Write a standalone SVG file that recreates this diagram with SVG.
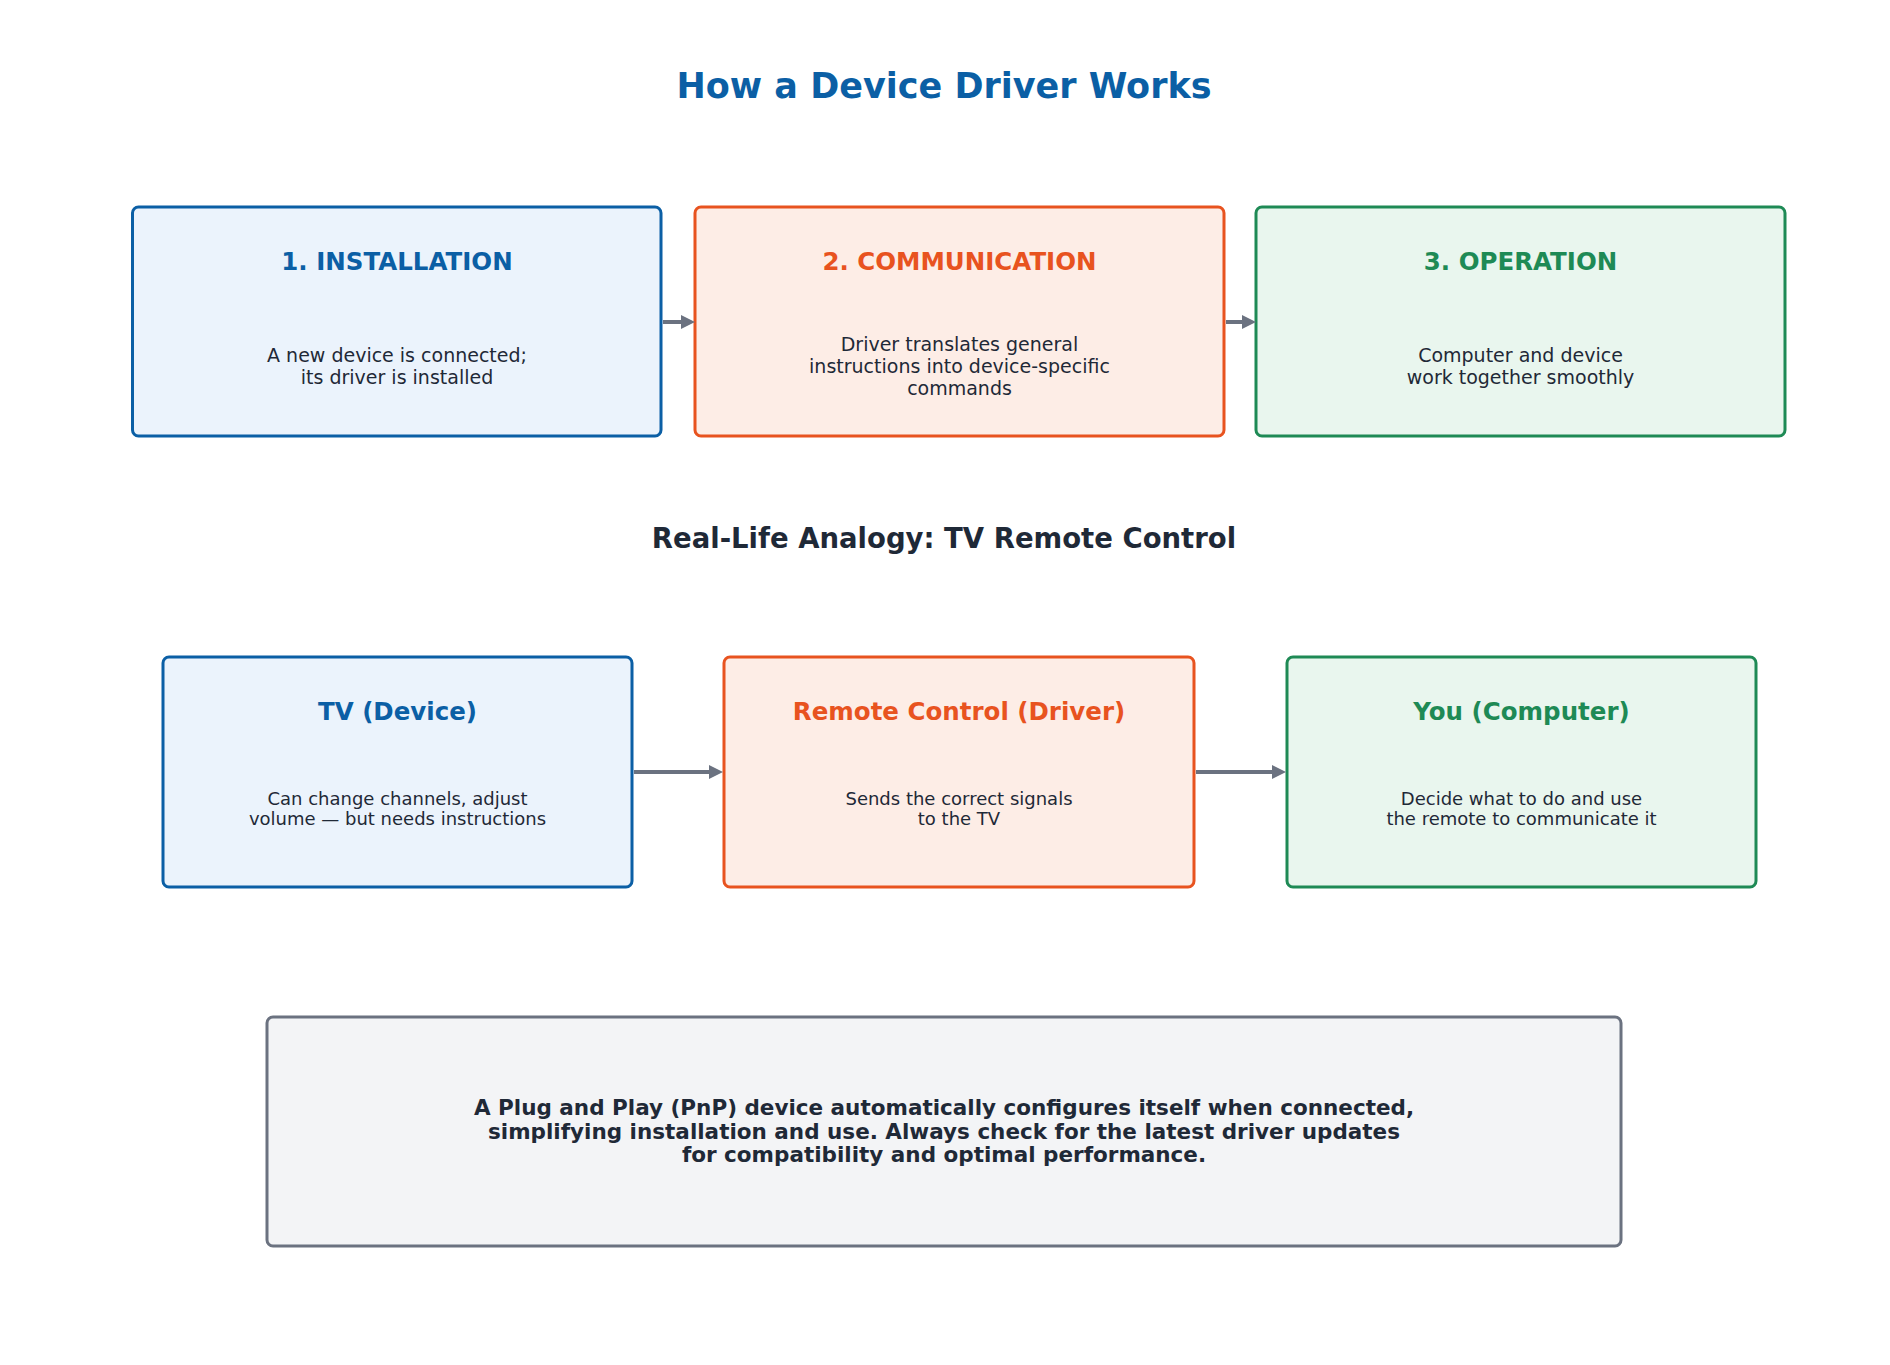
<svg xmlns="http://www.w3.org/2000/svg" width="1890" height="1365" viewBox="0 0 1890 1365">
<style>
text{font-family:"DejaVu Sans",sans-serif;text-anchor:middle}
.t{font-size:24.5px;font-weight:bold}
.b{font-size:19px;fill:#1f2937}
.s{font-size:18px;fill:#1f2937}
.blue rect{fill:#ebf3fc;stroke:#0b5fa5}
.orange rect{fill:#fdede6;stroke:#e8531f}
.green rect{fill:#e9f6ee;stroke:#1e8a55}
rect{stroke-width:3}
.blue .t{fill:#0b5fa5}.orange .t{fill:#e8531f}.green .t{fill:#1e8a55}
.c line{stroke:#6b7280;stroke-width:4;marker-end:url(#a)}
</style>
<defs><marker id="a" markerWidth="3.5" markerHeight="3.5" refX="2.5" refY="1.75" orient="auto" markerUnits="strokeWidth"><path d="M0,0L3.5,1.75L0,3.5z" fill="#6b7280"/></marker></defs>
<rect width="1890" height="1365" fill="#fff" stroke="none"/>
<text x="944" y="98" style="font-size:35px;font-weight:bold;fill:#0b5fa5">How a Device Driver Works</text>
<g id="n1" class="blue"><rect x="132.5" y="207" width="528.5" height="229" rx="6"/><text class="t" x="397" y="270">1. INSTALLATION</text><text class="b" x="397" y="362">A new device is connected;</text><text class="b" x="397" y="384">its driver is installed</text></g>
<g id="n2" class="orange"><rect x="695" y="207" width="529" height="229" rx="6"/><text class="t" x="959.5" y="270">2. COMMUNICATION</text><text class="b" x="959.5" y="351">Driver translates general</text><text class="b" x="959.5" y="373">instructions into device-specific</text><text class="b" x="959.5" y="395">commands</text></g>
<g id="n3" class="green"><rect x="1256" y="207" width="529" height="229" rx="6"/><text class="t" x="1520.5" y="270">3. OPERATION</text><text class="b" x="1520.5" y="362">Computer and device</text><text class="b" x="1520.5" y="384">work together smoothly</text></g>
<text x="944" y="548" style="font-size:27.5px;font-weight:bold;fill:#1f2937">Real-Life Analogy: TV Remote Control</text>
<g id="n4" class="blue"><rect x="163" y="657" width="469" height="230" rx="6"/><text class="t" x="397.5" y="720">TV (Device)</text><text class="s" x="397.5" y="805">Can change channels, adjust</text><text class="s" x="397.5" y="825">volume — but needs instructions</text></g>
<g id="n5" class="orange"><rect x="724" y="657" width="470" height="230" rx="6"/><text class="t" x="959" y="720">Remote Control (Driver)</text><text class="s" x="959" y="805">Sends the correct signals</text><text class="s" x="959" y="825">to the TV</text></g>
<g id="n6" class="green"><rect x="1287" y="657" width="469" height="230" rx="6"/><text class="t" x="1521.5" y="720">You (Computer)</text><text class="s" x="1521.5" y="805">Decide what to do and use</text><text class="s" x="1521.5" y="825">the remote to communicate it</text></g>
<g id="n7"><rect x="267" y="1017" width="1354" height="229" rx="6" fill="#f3f4f6" stroke="#6b7280"/><g style="font-size:21.5px;font-weight:bold;fill:#1f2937"><text x="944" y="1115">A Plug and Play (PnP) device automatically configures itself when connected,</text><text x="944" y="1139">simplifying installation and use. Always check for the latest driver updates</text><text x="944" y="1162">for compatibility and optimal performance.</text></g></g>
<g id="connectors" class="c">
<line x1="663" y1="322" x2="691" y2="322"/>
<line x1="1226" y1="322" x2="1252" y2="322"/>
<line x1="634" y1="772" x2="719" y2="772"/>
<line x1="1196" y1="772" x2="1282" y2="772"/>
</g>
</svg>
